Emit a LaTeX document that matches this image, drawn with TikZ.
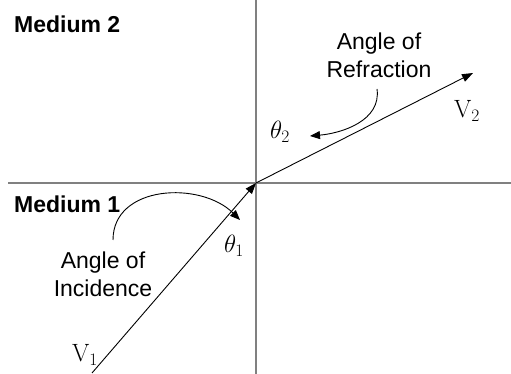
\RequirePackage{fix-cm}
\documentclass[tikz,border=0pt]{standalone}
\usepackage{fontspec}
\setsansfont{Liberation Sans}
\usetikzlibrary{arrows.meta}
\definecolor{axisGray}{RGB}{128,128,128}

\tikzset{
  boundary/.style={axisGray, line width=1.6pt},
  ray/.style={line width=0.9pt, -{Triangle[length=11pt,width=8pt]}},
  bendarrow/.style={line width=0.9pt, -{Triangle[length=10pt,width=8pt]}},
  medium/.style={font=\sffamily\bfseries\fontsize{23}{27.6}\selectfont, anchor=base west, inner sep=0pt},
  caption/.style={font=\sffamily\fontsize{23}{27.6}\selectfont, align=center, inner sep=0pt},
  symbol/.style={font=\fontsize{25}{29}\selectfont, inner sep=0pt},
}

\begin{document}
\begin{tikzpicture}[x=1pt, y=1pt]
  \useasboundingbox (0,0) rectangle (511,374);
  % interface and normal
  \coordinate (O) at (256,191);
  \coordinate (top) at (256,374);
  \coordinate (bottom) at (256,0);
  \coordinate (left) at (8,191);
  \coordinate (right) at (511,191);
  \draw[boundary] (top) -- (bottom);
  \draw[boundary] (left) -- (right);
  % rays
  \coordinate (src) at (92,1);
  \coordinate (dst) at (473,301);
  \draw[ray] (src) -- (O);
  \draw[ray] (O) -- (dst);
  % labels
  \node[medium] (med2) at (14,341) {Medium 2};
  \node[medium] (med1) at (14,161) {Medium 1};
  \node[caption] (incid) at (103,100) {Angle of\\Incidence};
  \node[caption] (refr) at (379,319) {Angle of\\Refraction};
  \node[symbol] (th1) at (234,128) {$\theta_1$};
  \node[symbol] (th2) at (280,242) {$\theta_2$};
  \node[symbol] (v1) at (85,19) {$\mathrm{V}_1$};
  \node[symbol] (v2) at (467,263) {$\mathrm{V}_2$};
  % angle arrows
  \coordinate (incStart) at (113,134);
  \coordinate (incEnd) at (240,154);
  \coordinate (refStart) at (377,285);
  \coordinate (refEnd) at (310,238);
  \draw[bendarrow] (incStart) to[out=90, in=135, looseness=1.1] (incEnd);
  \draw[bendarrow] (refStart) to[out=-82, in=5] (refEnd);
\end{tikzpicture}
\end{document}
